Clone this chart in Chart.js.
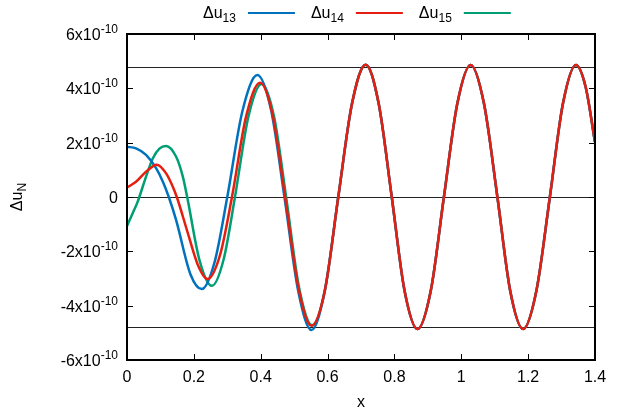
<!DOCTYPE html>
<html lang="en">
    <head>
        <meta charset="UTF-8" />
        <title>Delta u_N</title>
        <script src="https://cdn.jsdelivr.net/npm/chart.js@4/dist/chart.umd.min.js"></script>
        <style>
            body { margin: 0; background: #fff; }
        </style>
    </head>
    <body>
        <canvas id="mychart" width="627" height="416"></canvas>
        <script>
            // values in units of 1e-10
            const blueX = [0, 0.027, 0.057, 0.087, 0.107, 0.125, 0.147, 0.190, 0.224, 0.262, 0.300, 0.345, 0.390, 0.431, 0.471, 0.512, 0.552];
            const blueY = [1.85, 1.79, 1.55, 1.06, 0.57, 0, -0.85, -2.85, -3.39, -2.40, 0, 3.15, 4.49, 3.20, 0, -3.45, -4.90];

            const redX = [0, 0.027, 0.057, 0.089, 0.117, 0.137, 0.149, 0.182, 0.212, 0.241, 0.278, 0.314, 0.356, 0.398, 0.436, 0.473, 0.513, 0.552];
            const redY = [0.35, 0.56, 0.93, 1.19, 0.87, 0.38, 0, -1.33, -2.50, -3.02, -2.15, 0, 2.95, 4.21, 3.00, 0, -3.35, -4.74];

            const greenX = [0, 0.017, 0.032, 0.057, 0.077, 0.097, 0.117, 0.147, 0.167, 0.180, 0.217, 0.254, 0.289, 0.323, 0.363, 0.403, 0.440, 0.476, 0.515, 0.554];
            const greenY = [-1.07, -0.60, -0.17, 0.75, 1.42, 1.78, 1.88, 1.48, 0.75, 0, -2.33, -3.27, -2.30, 0, 2.95, 4.16, 2.95, 0, -3.35, -4.72];

            // all three curves coincide after x ~ 0.6
            const tailX = [0.592, 0.632, 0.673, 0.714, 0.753, 0.792, 0.830, 0.869, 0.909, 0.948, 0.988, 1.028, 1.068, 1.108, 1.146, 1.185, 1.225, 1.265, 1.304, 1.343, 1.372, 1.400];
            const tailY = [-3.43, 0, 3.43, 4.87, 3.43, 0, -3.43, -4.86, -3.43, 0, 3.43, 4.86, 3.43, 0, -3.43, -4.86, -3.43, 0, 3.43, 4.86, 4.05, 2.02];

            const refLevels = [4.8, 0, -4.8];
            const subLabels = ['13', '14', '15'];
            const xTicks = [0, 0.2, 0.4, 0.6, 0.8, 1, 1.2, 1.4];

            const FONT = '"Liberation Sans", Arial, sans-serif';
            const ctx = document.getElementById("mychart").getContext("2d");

            function points(xs, ys)  {
                const all = xs.concat(tailX);
                const vals = ys.concat(tailY);
                return all.map((x, i) => ({ x: x, y: vals[i] }));
            }

            // draws text pieces one after another (for sub/superscripts)
            function rich(c, parts, x, y, align)  {
                let w = 0;
                parts.forEach(p => {
                    c.font = p.size + 'px ' + FONT;
                    p.w = c.measureText(p.text).width;
                    w += p.w;
                });
                let cx = x;
                if(align === 'right') cx = x - w;
                if(align === 'center') cx = x - w / 2;
                parts.forEach(p => {
                    c.font = p.size + 'px ' + FONT;
                    c.fillText(p.text, cx, y + (p.dy || 0));
                    cx += p.w;
                });
                return w;
            }

            const decor = {
                id: 'decor',
                beforeDatasetsDraw(chart)  {
                    const c = chart.ctx, a = chart.chartArea, ys = chart.scales.y;
                    c.save();
                    c.strokeStyle = '#222';
                    c.lineWidth = 1;
                    refLevels.forEach(v => {
                        const py = Math.round(ys.getPixelForValue(v)) + 0.5;
                        c.beginPath();
                        c.moveTo(a.left, py);
                        c.lineTo(a.right, py);
                        c.stroke();
                    });
                    c.restore();
                },
                afterDraw(chart)  {
                    const c = chart.ctx, a = chart.chartArea;
                    const xs = chart.scales.x, ys = chart.scales.y;
                    c.save();
                    c.strokeStyle = '#000';
                    c.fillStyle = '#000';

                    // tics, mirrored on all sides
                    c.lineWidth = 1;
                    c.beginPath();
                    xs.ticks.forEach(t => {
                        const px = Math.round(xs.getPixelForValue(t.value)) + 0.5;
                        c.moveTo(px, a.bottom); c.lineTo(px, a.bottom - 6);
                        c.moveTo(px, a.top); c.lineTo(px, a.top + 6);
                    });
                    ys.ticks.forEach(t => {
                        const py = Math.round(ys.getPixelForValue(t.value)) + 0.5;
                        c.moveTo(a.left, py); c.lineTo(a.left + 6, py);
                        c.moveTo(a.right, py); c.lineTo(a.right - 6, py);
                    });
                    c.stroke();

                    c.lineWidth = 2;
                    c.strokeRect(a.left, a.top, a.right - a.left, a.bottom - a.top);

                    // y tick labels like 6x10^-10
                    c.textBaseline = 'alphabetic';
                    ys.ticks.forEach(t => {
                        const n = Math.round(t.value);
                        const py = ys.getPixelForValue(t.value) + 6;
                        if(n === 0)  {
                            rich(c, [{ text: '0', size: 16 }], a.left - 9, py, 'right');
                        } else {
                            rich(c, [{ text: n + 'x10', size: 16 }, { text: '-10', size: 12, dy: -7 }], a.left - 9, py, 'right');
                        }
                    });

                    // axis titles
                    rich(c, [{ text: 'x', size: 16 }], (a.left + a.right) / 2, 407, 'center');
                    c.save();
                    c.translate(22, (a.top + a.bottom) / 2);
                    c.rotate(-Math.PI / 2);
                    rich(c, [{ text: '\u0394u', size: 16 }, { text: 'N', size: 12, dy: 4 }], 0, 0, 'center');
                    c.restore();

                    // key on top, text then line sample
                    let kx = 203;
                    chart.data.datasets.forEach((ds, i) => {
                        kx += rich(c, [{ text: '\u0394u', size: 16 }, { text: subLabels[i], size: 12, dy: 4 }], kx, 18, 'left');
                        kx += 12;
                        c.strokeStyle = ds.borderColor;
                        c.lineWidth = 2;
                        c.beginPath();
                        c.moveTo(kx, 13);
                        c.lineTo(kx + 47, 13);
                        c.stroke();
                        kx += 47 + 16;
                    });
                    c.restore();
                }
            };

            const myChart = new Chart(ctx, {
                type: 'line',
                data: {
                    datasets: [
                        { label: 'du13', data: points(blueX, blueY), borderColor: '#0072bd', order: 1 },
                        { label: 'du14', data: points(redX, redY), borderColor: '#e51e10', order: 0 },
                        { label: 'du15', data: points(greenX, greenY), borderColor: '#009e73', order: 2 }
                    ]
                },
                options: {
                    responsive: false,
                    animation: false,
                    layout: { padding: { left: 127, right: 32, top: 34, bottom: 0 } },
                    elements: {
                        point: { radius: 0 },
                        line: { borderWidth: 2.5, cubicInterpolationMode: 'monotone', fill: false }
                    },
                    plugins: {
                        legend: { display: false },
                        tooltip: { enabled: false }
                    },
                    scales: {
                        x: {
                            type: 'linear',
                            min: 0,
                            max: 1.4,
                            afterBuildTicks: s => { s.ticks = xTicks.map(v => ({ value: v })); },
                            afterFit: s => { s.height = 56; },
                            grid: { display: false, drawTicks: false },
                            border: { display: false },
                            ticks: {
                                padding: 8,
                                color: '#000',
                                font: { family: FONT, size: 16 },
                                maxRotation: 0,
                                callback: v => String(v)
                            }
                        },
                        y: {
                            min: -6,
                            max: 6,
                            afterFit: s => { s.width = 0; },
                            grid: { display: false, drawTicks: false },
                            border: { display: false },
                            ticks: { display: false, stepSize: 2 }
                        }
                    }
                },
                plugins: [decor]
            });
        </script>
    </body>
</html>
